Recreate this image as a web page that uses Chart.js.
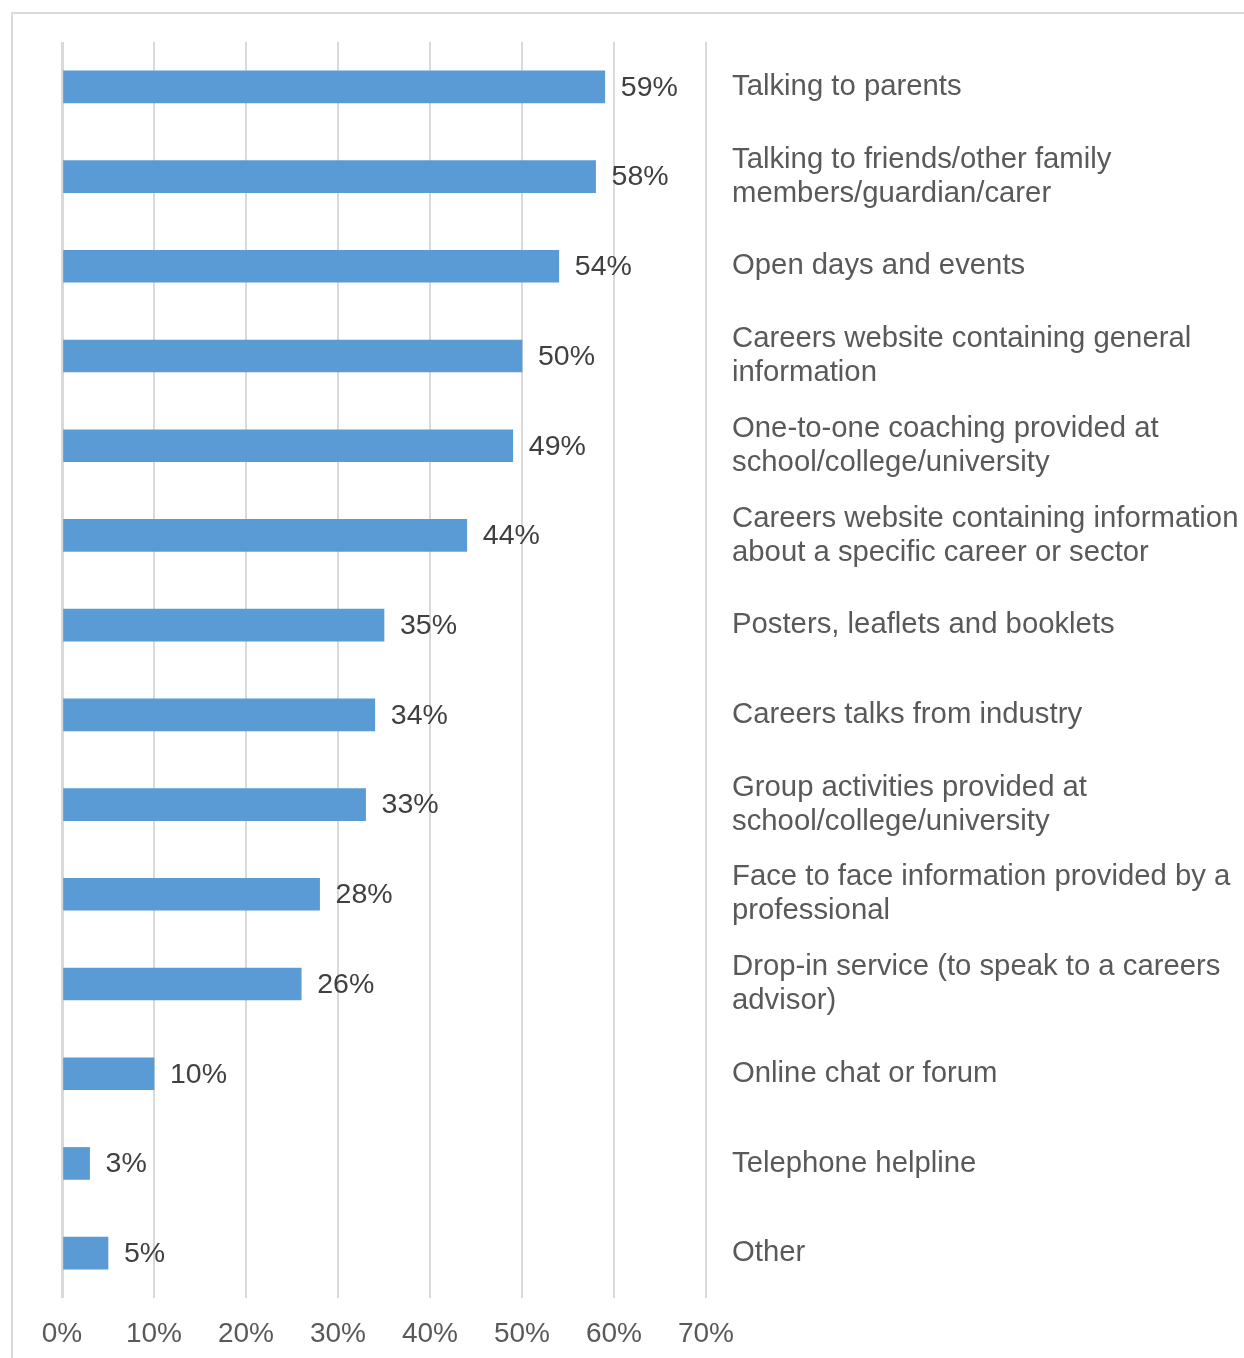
<!DOCTYPE html>
<html>
<head>
<meta charset="utf-8">
<title>Sources of careers information</title>
<script src="https://cdn.jsdelivr.net/npm/chart.js@4/dist/chart.umd.min.js"></script>
<style>
  html, body { margin: 0; padding: 0; background: #fff; }
  #frame {
    position: absolute;
    left: 11px;
    top: 12px;
    width: 1233px;
    height: 1346px;
    border-left: 2px solid #d9d9d9;
    border-top: 2px solid #d9d9d9;
  }
  #sourcesCanvas { display: block; }
</style>
</head>
<body>
<div id="frame">
  <canvas id="sourcesCanvas" width="1231" height="1344"></canvas>
</div>
<script>
const categories = [
  'Talking to parents',
  ['Talking to friends/other family', 'members/guardian/carer'],
  'Open days and events',
  ['Careers website containing general', 'information'],
  ['One-to-one coaching provided at', 'school/college/university'],
  ['Careers website containing information', 'about a specific career or sector'],
  'Posters, leaflets and booklets',
  'Careers talks from industry',
  ['Group activities provided at', 'school/college/university'],
  ['Face to face information provided by a', 'professional'],
  ['Drop-in service (to speak to a careers', 'advisor)'],
  'Online chat or forum',
  'Telephone helpline',
  'Other'
]
const percentages = [59, 58, 54, 50, 49, 44, 35, 34, 33, 28, 26, 10, 3, 5]
const xTicks = [0, 10, 20, 30, 40, 50, 60, 70]

const fontFamily = '"Liberation Sans", Arial, sans-serif'

// writes "59%" etc. just past the end of each bar
const barValueLabels = {
  id: 'barValueLabels',
  afterDatasetsDraw(chart) {
    const c = chart.ctx
    const meta = chart.getDatasetMeta(0)
    c.save()
    c.font = '28.5px ' + fontFamily
    c.fillStyle = '#404040'
    c.textAlign = 'left'
    c.textBaseline = 'middle'
    meta.data.forEach((bar, i) => {
      c.fillText(percentages[i] + '%', bar.x + 16, bar.y + 1)
    })
    c.restore()
  }
}

const ctx = document.getElementById('sourcesCanvas')

const sourcesChart = new Chart(ctx, {
  type: 'bar',
  data: {
    labels: categories,
    datasets: [{
      data: percentages,
      backgroundColor: '#5b9bd5',
      borderWidth: 0,
      barThickness: 32
    }]
  },
  options: {
    indexAxis: 'y',
    responsive: false,
    animation: false,
    devicePixelRatio: 1,
    layout: {
      padding: { left: 49, top: 28, right: 0, bottom: 0 }
    },
    plugins: {
      legend: { display: false },
      tooltip: { enabled: false }
    },
    scales: {
      x: {
        type: 'linear',
        min: 0,
        max: 70,
        afterBuildTicks(scale) {
          scale.ticks = xTicks.map(v => ({ value: v }))
        },
        afterFit(scale) {
          scale.height = 60
        },
        grid: {
          color: '#d9d9d9',
          lineWidth: c => (c.index === 0 ? 3 : 2),
          drawTicks: false
        },
        border: { display: false },
        ticks: {
          padding: 19,
          color: '#595959',
          font: { family: fontFamily, size: 28 },
          callback: v => v + '%'
        }
      },
      y: {
        position: 'right',
        afterFit(scale) {
          // fixed label column; don't let the two-line labels push the plot down
          scale.width = 538
          scale.paddingTop = 0
          scale.paddingBottom = 0
        },
        grid: { display: false, drawTicks: false },
        border: { display: false },
        ticks: {
          padding: 26,
          color: '#595959',
          font: { family: fontFamily, size: 29.3, lineHeight: 1.16 }
        }
      }
    }
  },
  plugins: [barValueLabels]
})
</script>
</body>
</html>
